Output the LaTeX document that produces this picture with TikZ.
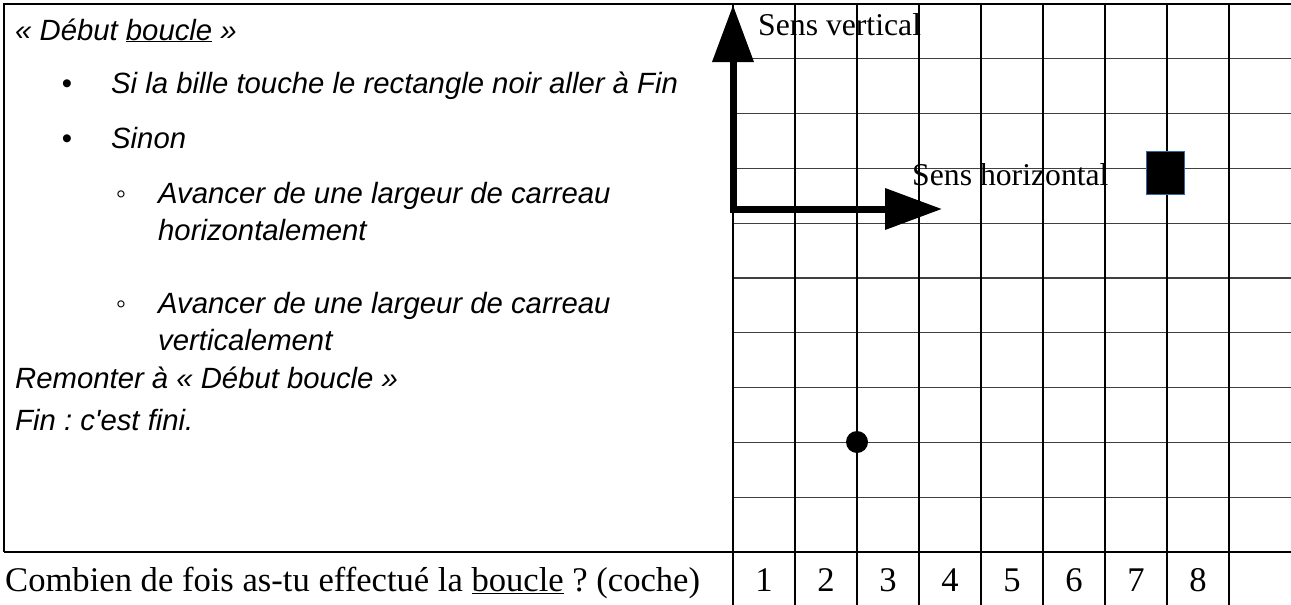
\documentclass[tikz,border=0pt]{standalone}
\usepackage{fontspec}
\setmainfont{Liberation Serif}
\newfontfamily\arsans{Liberation Sans}
\usetikzlibrary{arrows.meta}
\definecolor{sqborder}{RGB}{52,101,164}
\frenchspacing
\begin{document}
\begin{tikzpicture}[x=1pt,y=-1pt,
  algo/.style={anchor=base west, inner sep=0pt, font=\arsans\itshape\fontsize{29.3}{37}\selectfont},
  bul/.style={anchor=base, inner sep=0pt, font=\arsans\fontsize{29.3}{37}\selectfont},
  sens/.style={anchor=base west, inner sep=0pt, font=\fontsize{31.7}{38}\selectfont},
  num/.style={anchor=base, inner sep=0pt, font=\fontsize{34.6}{40}\selectfont},
  gridv/.style={line width=1.1pt, black},
  gridh/.style={line width=1.1pt, black!75},
  bigarrow/.style={line width=7pt, line join=miter,
    {Triangle[length=57pt,width=40pt]}-{Triangle[length=57pt,width=40pt]}},
]
\useasboundingbox (0,0) rectangle (1291,605);
\fill[white] (0,0) rectangle (1291,605);
% grid and frame
\foreach \j in {1,...,9} \draw[gridh] (733,{4+54.8*\j}) -- (1291,{4+54.8*\j});
\draw[gridv] (4,552) -- (4,4) -- (1291,4);
\draw[gridv] (4,552) -- (1291,552);
\foreach \k in {0,...,8} \draw[gridv] ({733+62*\k},4) -- ({733+62*\k},605);
% algorithm text
\node[algo] (t1) at (15,40) {«~Début \underline{boucle}~»};
\node[bul] (b1) at (67,93) {•};
\node[algo] (t2) at (111,93) {Si la bille touche le rectangle noir aller à Fin};
\node[bul] (b2) at (67,148) {•};
\node[algo] (t3) at (111,148) {Sinon};
\node[bul] (c1) at (121,203) {◦};
\node[algo] (t4) at (158,203) {Avancer de une largeur de carreau};
\node[algo] (t5) at (158,240) {horizontalement};
\node[bul] (c2) at (121,313) {◦};
\node[algo] (t6) at (158,313) {Avancer de une largeur de carreau};
\node[algo] (t7) at (158,350) {verticalement};
\node[algo] (t8) at (15,388) {Remonter à «~Début boucle~»};
\node[algo] (t9) at (15,430) {Fin : c\textquotesingle est fini.};
% arrows
\coordinate (vtip) at (733,5);
\coordinate (corner) at (733,209);
\coordinate (htip) at (942,209);
\draw[bigarrow] (vtip) -- (corner) -- (htip);
\node[sens] (sv) at (758,35) {Sens vertical};
\node[sens] (sh) at (912,185) {Sens horizontal};
% target square and ball
\draw[draw=sqborder, fill=black, line width=1pt] (1146,151) rectangle (1184,194);
\fill[black] (857,442) circle (11);
% bottom row
\node[num, anchor=base west] (q) at (5,591) {Combien de fois as-tu effectué la \underline{boucle} ? (coche)};
\foreach \n in {1,...,8} \node[num] (n\n) at ({733+62*\n-31},591) {\n};
\end{tikzpicture}
\end{document}
